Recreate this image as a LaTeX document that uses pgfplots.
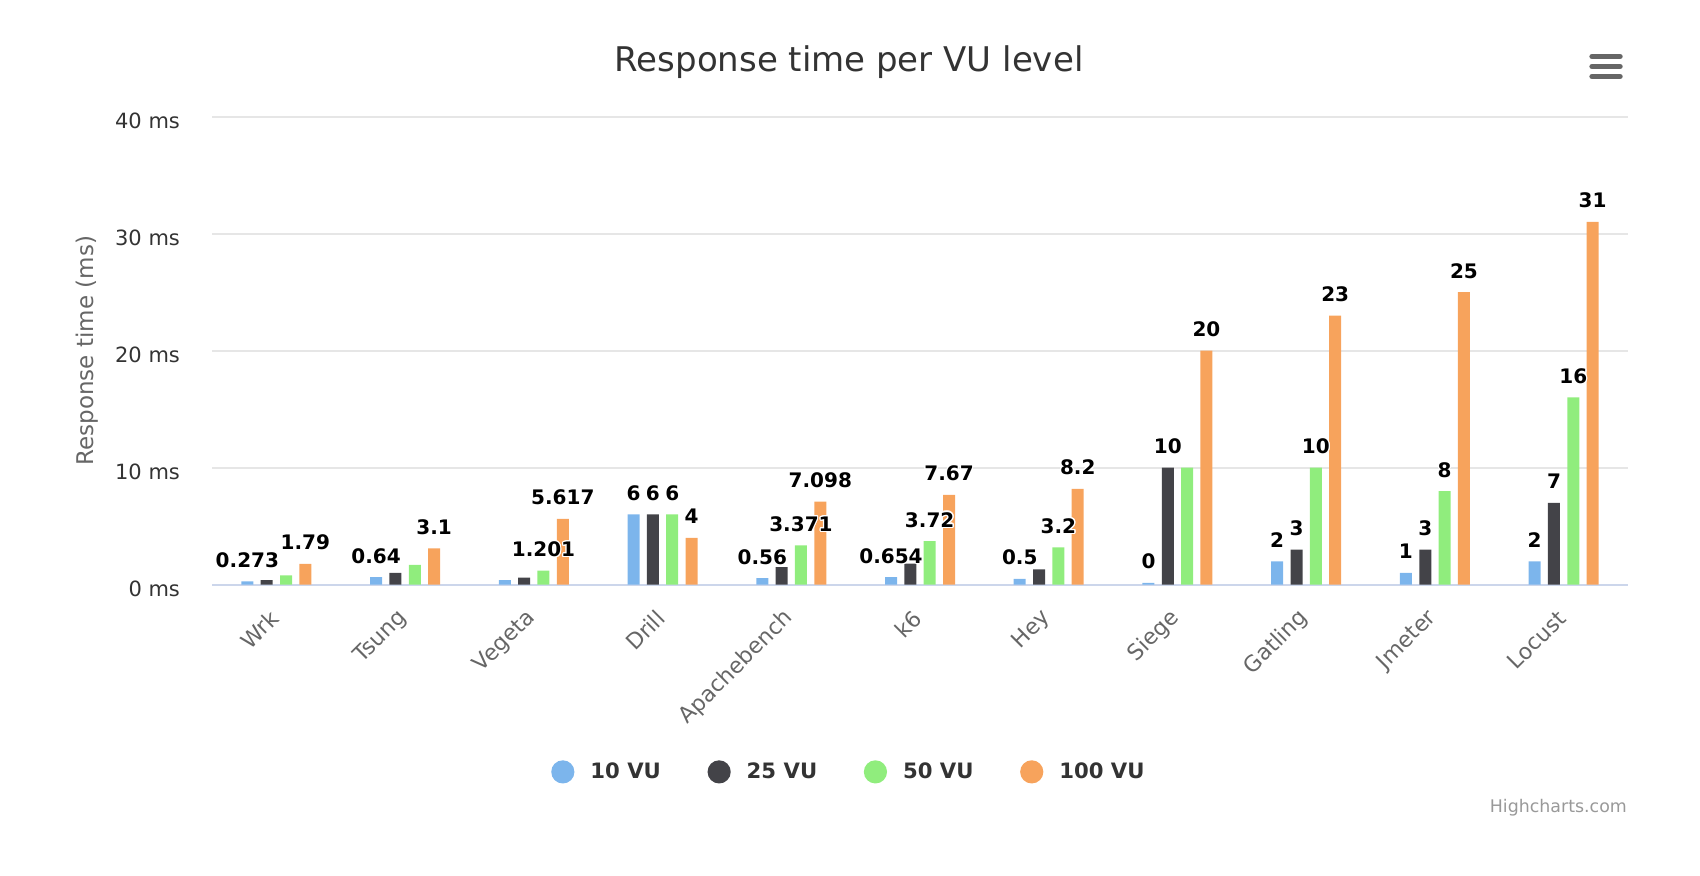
\documentclass[border=0pt]{standalone}
\usepackage{pgfplots}
\pgfplotsset{compat=1.18}
\usepackage{pgfplotstable}
\usepackage{contour}
\usepackage{fontspec}
\setmainfont{DejaVu Sans}
\definecolor{cA}{HTML}{7CB5EC}
\definecolor{cB}{HTML}{434348}
\definecolor{cC}{HTML}{90ED7D}
\definecolor{cD}{HTML}{F7A35C}
\definecolor{gridc}{HTML}{E6E6E6}
\definecolor{axisc}{HTML}{CCD6EB}
\definecolor{txt}{HTML}{333333}
\definecolor{lblc}{HTML}{666666}
\definecolor{credc}{HTML}{999999}
\contourlength{0.6pt}

\pgfplotstableread{
x y lbl
0 0.273 0.273
1 0.64 0.64
2 0.4 {}
3 6 6
4 0.56 0.56
5 0.654 0.654
6 0.5 0.5
7 0.15 0
8 2 2
9 1 1
10 2 2
}\tA
\pgfplotstableread{
x y lbl
0 0.4 {}
1 1.0 {}
2 0.6 {}
3 6 6
4 1.5 {}
5 1.8 {}
6 1.3 {}
7 10 10
8 3 3
9 3 3
10 7 7
}\tB
\pgfplotstableread{
x y lbl
0 0.8 {}
1 1.7 {}
2 1.201 1.201
3 6 6
4 3.371 3.371
5 3.72 3.72
6 3.2 3.2
7 10 {}
8 10 10
9 8 8
10 16 16
}\tC
\pgfplotstableread{
x y lbl
0 1.79 1.79
1 3.1 3.1
2 5.617 5.617
3 4 4
4 7.098 7.098
5 7.67 7.67
6 8.2 8.2
7 20 20
8 23 23
9 25 25
10 31 31
}\tD

\begin{document}
\begin{tikzpicture}
\path[use as bounding box] (0,0) rectangle (850pt,438pt);
\begin{axis}[
  at={(106pt,145.65pt)}, anchor=south west,
  scale only axis, width=708pt, height=234pt,
  xmin=-0.5, xmax=10.5, ymin=0, ymax=40,
  ytick={0,10,20,30,40},
  yticklabels={0 ms,10 ms,20 ms,30 ms,40 ms},
  xtick={0,...,10},
  xticklabels={Wrk,Tsung,Vegeta,Drill,Apachebench,k6,Hey,Siege,Gatling,Jmeter,Locust},
  axis x line*=bottom, axis y line*=left,
  x axis line style={draw=axisc, line width=1pt, -},
  y axis line style={draw=none},
  major tick length=0pt, tick style={draw=none},
  ymajorgrids, grid style={draw=gridc, line width=1pt},
  bar width=0.0932,
  yticklabel style={font=\fontsize{10.5}{12}\selectfont, text=txt, anchor=east, xshift=-12.5pt, yshift=-2pt},
  xticklabel style={font=\fontsize{11}{13}\selectfont, text=lblc, xshift=1.5pt, yshift=-12.5pt, rotate=45, anchor=east},
  title={Response time per VU level},
  title style={at={(rel axis cs:0.4499,1.091)}, anchor=center, font=\fontsize{17}{20}\selectfont, text=txt},
  ylabel={Response time (ms)},
  ylabel style={at={(rel axis cs:-0.0883,0.5)}, anchor=center, font=\fontsize{11.5}{13}\selectfont, text=lblc},
  legend columns=4,
  legend style={at={(0.4505,-0.40)}, anchor=center, draw=none, fill=none,
    font=\bfseries\fontsize{10.6}{12}\selectfont, text=txt,
    /tikz/every odd column/.append style={column sep=6pt},
    /tikz/every even column/.append style={column sep=21.3pt}},
  legend image code/.code={\fill (0pt,0pt) circle (5.8pt);},
  lbls/.style={ybar, bar shift=#1, draw=none, fill=none, forget plot,
    point meta=explicit symbolic,
    nodes near coords={\contour{white}{\pgfplotspointmeta}},
    nodes near coords style={font=\bfseries\fontsize{10}{12}\selectfont, text=black, anchor=base, yshift=7pt, inner sep=0pt}},
]
\addplot[ybar, bar shift=-0.2253, fill=cA, draw=none] table[x=x,y=y]{\tA};
\addplot[ybar, bar shift=-0.0751, fill=cB, draw=none] table[x=x,y=y]{\tB};
\addplot[ybar, bar shift=0.0751, fill=cC, draw=none] table[x=x,y=y]{\tC};
\addplot[ybar, bar shift=0.2253, fill=cD, draw=none] table[x=x,y=y]{\tD};
\legend{10 VU,25 VU,50 VU,100 VU}
\addplot[lbls=-0.2253, every node near coord/.append style={xshift=-14.5pt}] table[x=x,y=y,meta=lbl]{\tA};
\addplot[lbls=-0.0751, every node near coord/.append style={xshift=-4.83pt}] table[x=x,y=y,meta=lbl]{\tB};
\addplot[lbls=0.0751, every node near coord/.append style={xshift=4.83pt}] table[x=x,y=y,meta=lbl]{\tC};
\addplot[lbls=0.2253, every node near coord/.append style={xshift=14.5pt}] table[x=x,y=y,meta=lbl]{\tD};
\end{axis}
\draw[draw=lblc, line width=2.7pt, line cap=round] (796pt,409.7pt) -- (810pt,409.7pt);
\draw[draw=lblc, line width=2.7pt, line cap=round] (796pt,404.7pt) -- (810pt,404.7pt);
\draw[draw=lblc, line width=2.7pt, line cap=round] (796pt,399.7pt) -- (810pt,399.7pt);
\node[anchor=east, inner sep=0pt, text=credc, font=\fontsize{8.7}{10}\selectfont] at (813.6pt,34pt) {Highcharts.com};
\end{tikzpicture}
\end{document}
